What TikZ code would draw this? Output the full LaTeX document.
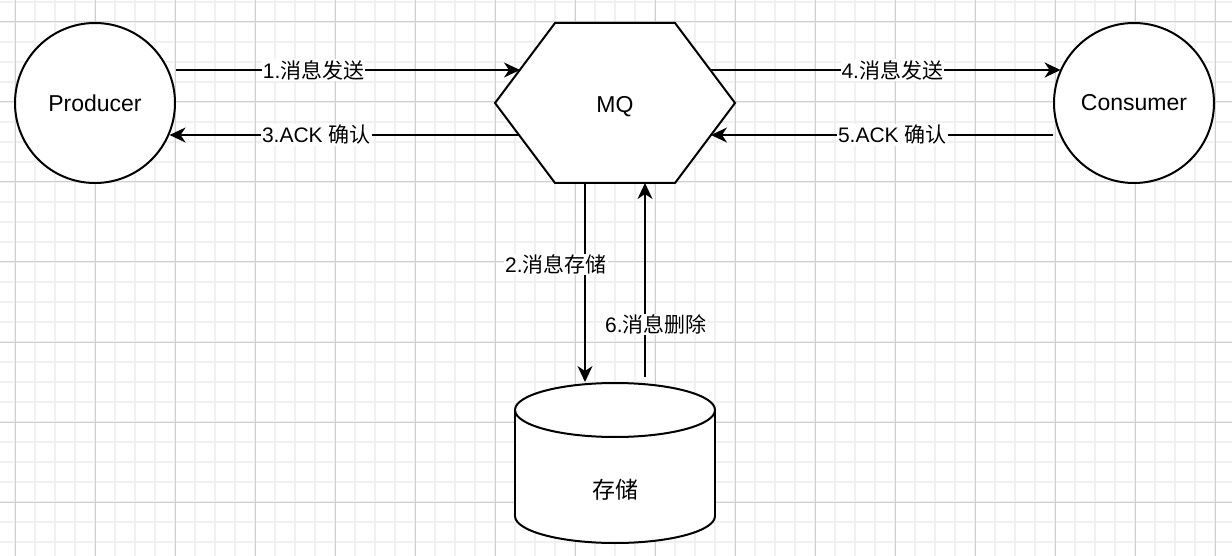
\documentclass[tikz,border=0pt]{standalone}
\usepackage{fontspec}
\setmainfont{Liberation Sans}
\newfontfamily\cjk{Noto Sans CJK SC}
\usetikzlibrary{arrows.meta}

\begin{document}
\begin{tikzpicture}[x=1pt,y=-1pt,
    minorline/.style={draw=black!6,line width=2pt},
    majorline/.style={draw=black!19,line width=1pt},
    box/.style={draw,line width=2pt,fill=white},
    flow/.style={line width=2pt,-{Stealth[length=16pt,width=15pt,inset=5pt]}},
    lbl/.style={fill=white,inner sep=1pt,font=\fontsize{21}{25}\selectfont},
    txt/.style={font=\fontsize{23}{28}\selectfont}]
  \useasboundingbox (0,0) rectangle (1232,556);

  % grid
  \foreach \x in {15,35,...,1232} \draw[minorline] (\x,0) -- (\x,556);
  \foreach \y in {2,22,...,556} \draw[minorline] (0,\y) -- (1232,\y);
  \foreach \x in {15,95,...,1232} \draw[majorline] (\x,0) -- (\x,556);
  \foreach \y in {22,102,...,556} \draw[majorline] (0,\y) -- (1232,\y);

  % producer and consumer
  \node[box,circle,minimum size=160pt,inner sep=0pt,txt] (prod) at (95,103) {Producer};
  \node[box,circle,minimum size=160pt,inner sep=0pt,txt] (cons) at (1134,103) {Consumer};

  % MQ
  \draw[box] (495,103) -- (555,23) -- (675,23) -- (735,103) -- (675,183) -- (555,183) -- cycle;
  \node[txt,text depth=0pt] (mq) at (615,104) {MQ};
  \coordinate (mqin1) at (520,70);
  \coordinate (mqout3) at (519,135);
  \coordinate (mqout4) at (710,70);
  \coordinate (mqin5) at (711,135);
  \coordinate (mqdown) at (585,183);
  \coordinate (mqup) at (645,183);

  % storage
  \draw[box] (615,516) ellipse[x radius=100,y radius=27];
  \fill[white] (515,410) rectangle (715,516);
  \draw[line width=2pt] (515,410) -- (515,516) (715,410) -- (715,516);
  \draw[box] (615,410) ellipse[x radius=100,y radius=27];
  \node[txt] (db) at (615,490) {\cjk 存储};
  \coordinate (dbin) at (585,382);
  \coordinate (dbout) at (645,377);

  % messages
  \draw[flow] (prod.east |- mqin1) -- node[lbl,pos=0.4] {1.{\cjk 消息发送}} (mqin1);
  \draw[flow] (mqout3) -- node[lbl,pos=0.58] {3.ACK {\cjk 确认}} (mqout3 -| prod.-23.6);
  \draw[flow] (mqout4) -- node[lbl,pos=0.52] {4.{\cjk 消息发送}} (mqout4 -| cons.155.6);
  \draw[flow] (cons.west |- mqin5) -- node[lbl,pos=0.47] {5.ACK {\cjk 确认}} (mqin5);
  \draw[flow] (mqdown) -- node[lbl,pos=0.41,xshift=-29pt] {2.{\cjk 消息存储}} (dbin);
  \draw[flow] (dbout) -- node[lbl,pos=0.27,xshift=11pt] {6.{\cjk 消息删除}} (mqup);
\end{tikzpicture}
\end{document}
